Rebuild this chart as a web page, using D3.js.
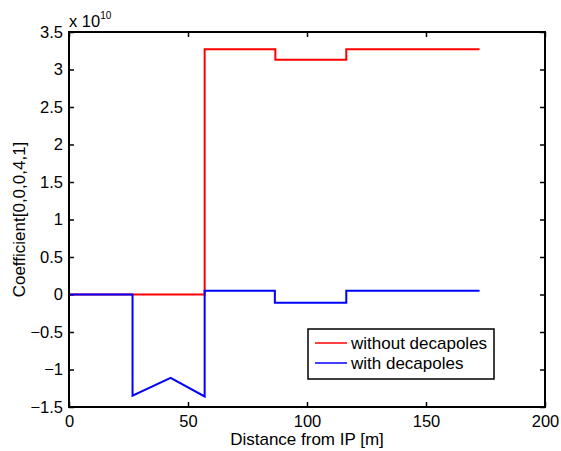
<!DOCTYPE html>
<html>
<head>
<meta charset="utf-8">
<script src="https://cdn.jsdelivr.net/npm/d3@7"></script>
<style>
    body { margin: 0; background: #fff; }
    text { font-family: "Liberation Sans", Arial, sans-serif; }
</style>
</head>
<body>
<div id="chart"></div>
<script>
// values in units of 1e10
var redX  = [0, 57, 57, 86.7, 86.7, 116.5, 116.5, 172.5];
var redY  = [0, 0, 3.27, 3.27, 3.13, 3.13, 3.27, 3.27];
var blueX = [0, 26.7, 26.7, 42.7, 57, 57, 86.5, 86.5, 116.5, 116.5, 172.5];
var blueY = [0, 0, -1.35, -1.11, -1.36, 0.05, 0.05, -0.11, -0.11, 0.05, 0.05];
var xTicks = [0, 50, 100, 150, 200];
var yTicks = [-1.5, -1, -0.5, 0, 0.5, 1, 1.5, 2, 2.5, 3, 3.5];
var seriesNames = ["without decapoles", "with decapoles"];
var seriesColors = ["#ff0000", "#0000ff"];

var W = 561, H = 451;
var margin = { top: 32, right: 16, bottom: 44, left: 69 };

var svg = d3.select("#chart")
    .append("svg")
    .attr("width", W)
    .attr("height", H);

svg.append("rect").attr("width", W).attr("height", H).attr("fill", "#fff");

var x = d3.scaleLinear().domain([0, 200]).range([margin.left, W - margin.right]);
var y = d3.scaleLinear().domain([-1.5, 3.5]).range([H - margin.bottom, margin.top]);

var fmt = d3.format("~g");

function styleAxis(g) {
    g.select(".domain").remove();
    g.selectAll(".tick line").attr("stroke", "#000").attr("stroke-width", 1.5);
    g.selectAll(".tick text").attr("fill", "#000").style("font-size", "16.5px");
}

svg.append("g")
    .attr("transform", "translate(0," + y.range()[0] + ")")
    .call(d3.axisBottom(x).tickValues(xTicks).tickFormat(fmt).tickSize(-5).tickPadding(8))
    .call(styleAxis);

svg.append("g")
    .attr("transform", "translate(0," + y.range()[1] + ")")
    .call(d3.axisTop(x).tickValues(xTicks).tickFormat("").tickSize(-5))
    .call(styleAxis);

svg.append("g")
    .attr("transform", "translate(" + x.range()[0] + ",0)")
    .call(d3.axisLeft(y).tickValues(yTicks).tickFormat(fmt).tickSize(-5).tickPadding(6))
    .call(styleAxis);

svg.append("g")
    .attr("transform", "translate(" + x.range()[1] + ",0)")
    .call(d3.axisRight(y).tickValues(yTicks).tickFormat("").tickSize(-5))
    .call(styleAxis);

// lines
var line = d3.line()
    .x(function (d) { return x(d[0]); })
    .y(function (d) { return y(d[1]); });

var series = [d3.zip(redX, redY), d3.zip(blueX, blueY)];

svg.append("g")
    .selectAll("path")
    .data(series)
    .enter()
    .append("path")
    .attr("d", line)
    .attr("fill", "none")
    .attr("stroke", function (d, i) { return seriesColors[i]; })
    .attr("stroke-width", 2);

// box
svg.append("rect")
    .attr("x", x.range()[0])
    .attr("y", y.range()[1])
    .attr("width", x.range()[1] - x.range()[0])
    .attr("height", y.range()[0] - y.range()[1])
    .attr("fill", "none")
    .attr("stroke", "#000")
    .attr("stroke-width", 2);

// exponent
var ex = svg.append("text")
    .attr("x", x.range()[0])
    .attr("y", 27)
    .style("font-size", "16.5px")
    .text("x 10");
ex.append("tspan")
    .attr("dy", -8)
    .style("font-size", "10px")
    .text("10");

// axis labels
svg.append("text")
    .attr("x", (x.range()[0] + x.range()[1]) / 2)
    .attr("y", 445)
    .attr("text-anchor", "middle")
    .style("font-size", "17px")
    .text("Distance from IP [m]");

svg.append("text")
    .attr("transform", "translate(25," + (y.range()[0] + y.range()[1]) / 2 + ") rotate(-90)")
    .attr("text-anchor", "middle")
    .style("font-size", "17px")
    .text("Coefficient[0,0,0,4,1]");

// legend
var legend = svg.append("g").attr("transform", "translate(308,329)");
legend.append("rect")
    .attr("width", 186)
    .attr("height", 50)
    .attr("fill", "#fff")
    .attr("stroke", "#000")
    .attr("stroke-width", 1.5);

var item = legend.selectAll(".item")
    .data(seriesNames)
    .enter()
    .append("g")
    .attr("class", "item")
    .attr("transform", function (d, i) { return "translate(0," + (14 + i * 20) + ")"; });

item.append("line")
    .attr("x1", 7).attr("x2", 39)
    .attr("stroke", function (d, i) { return seriesColors[i]; })
    .attr("stroke-width", 1.5);

item.append("text")
    .attr("x", 43)
    .attr("dy", "0.35em")
    .style("font-size", "17px")
    .text(function (d) { return d; });
</script>
</body>
</html>
